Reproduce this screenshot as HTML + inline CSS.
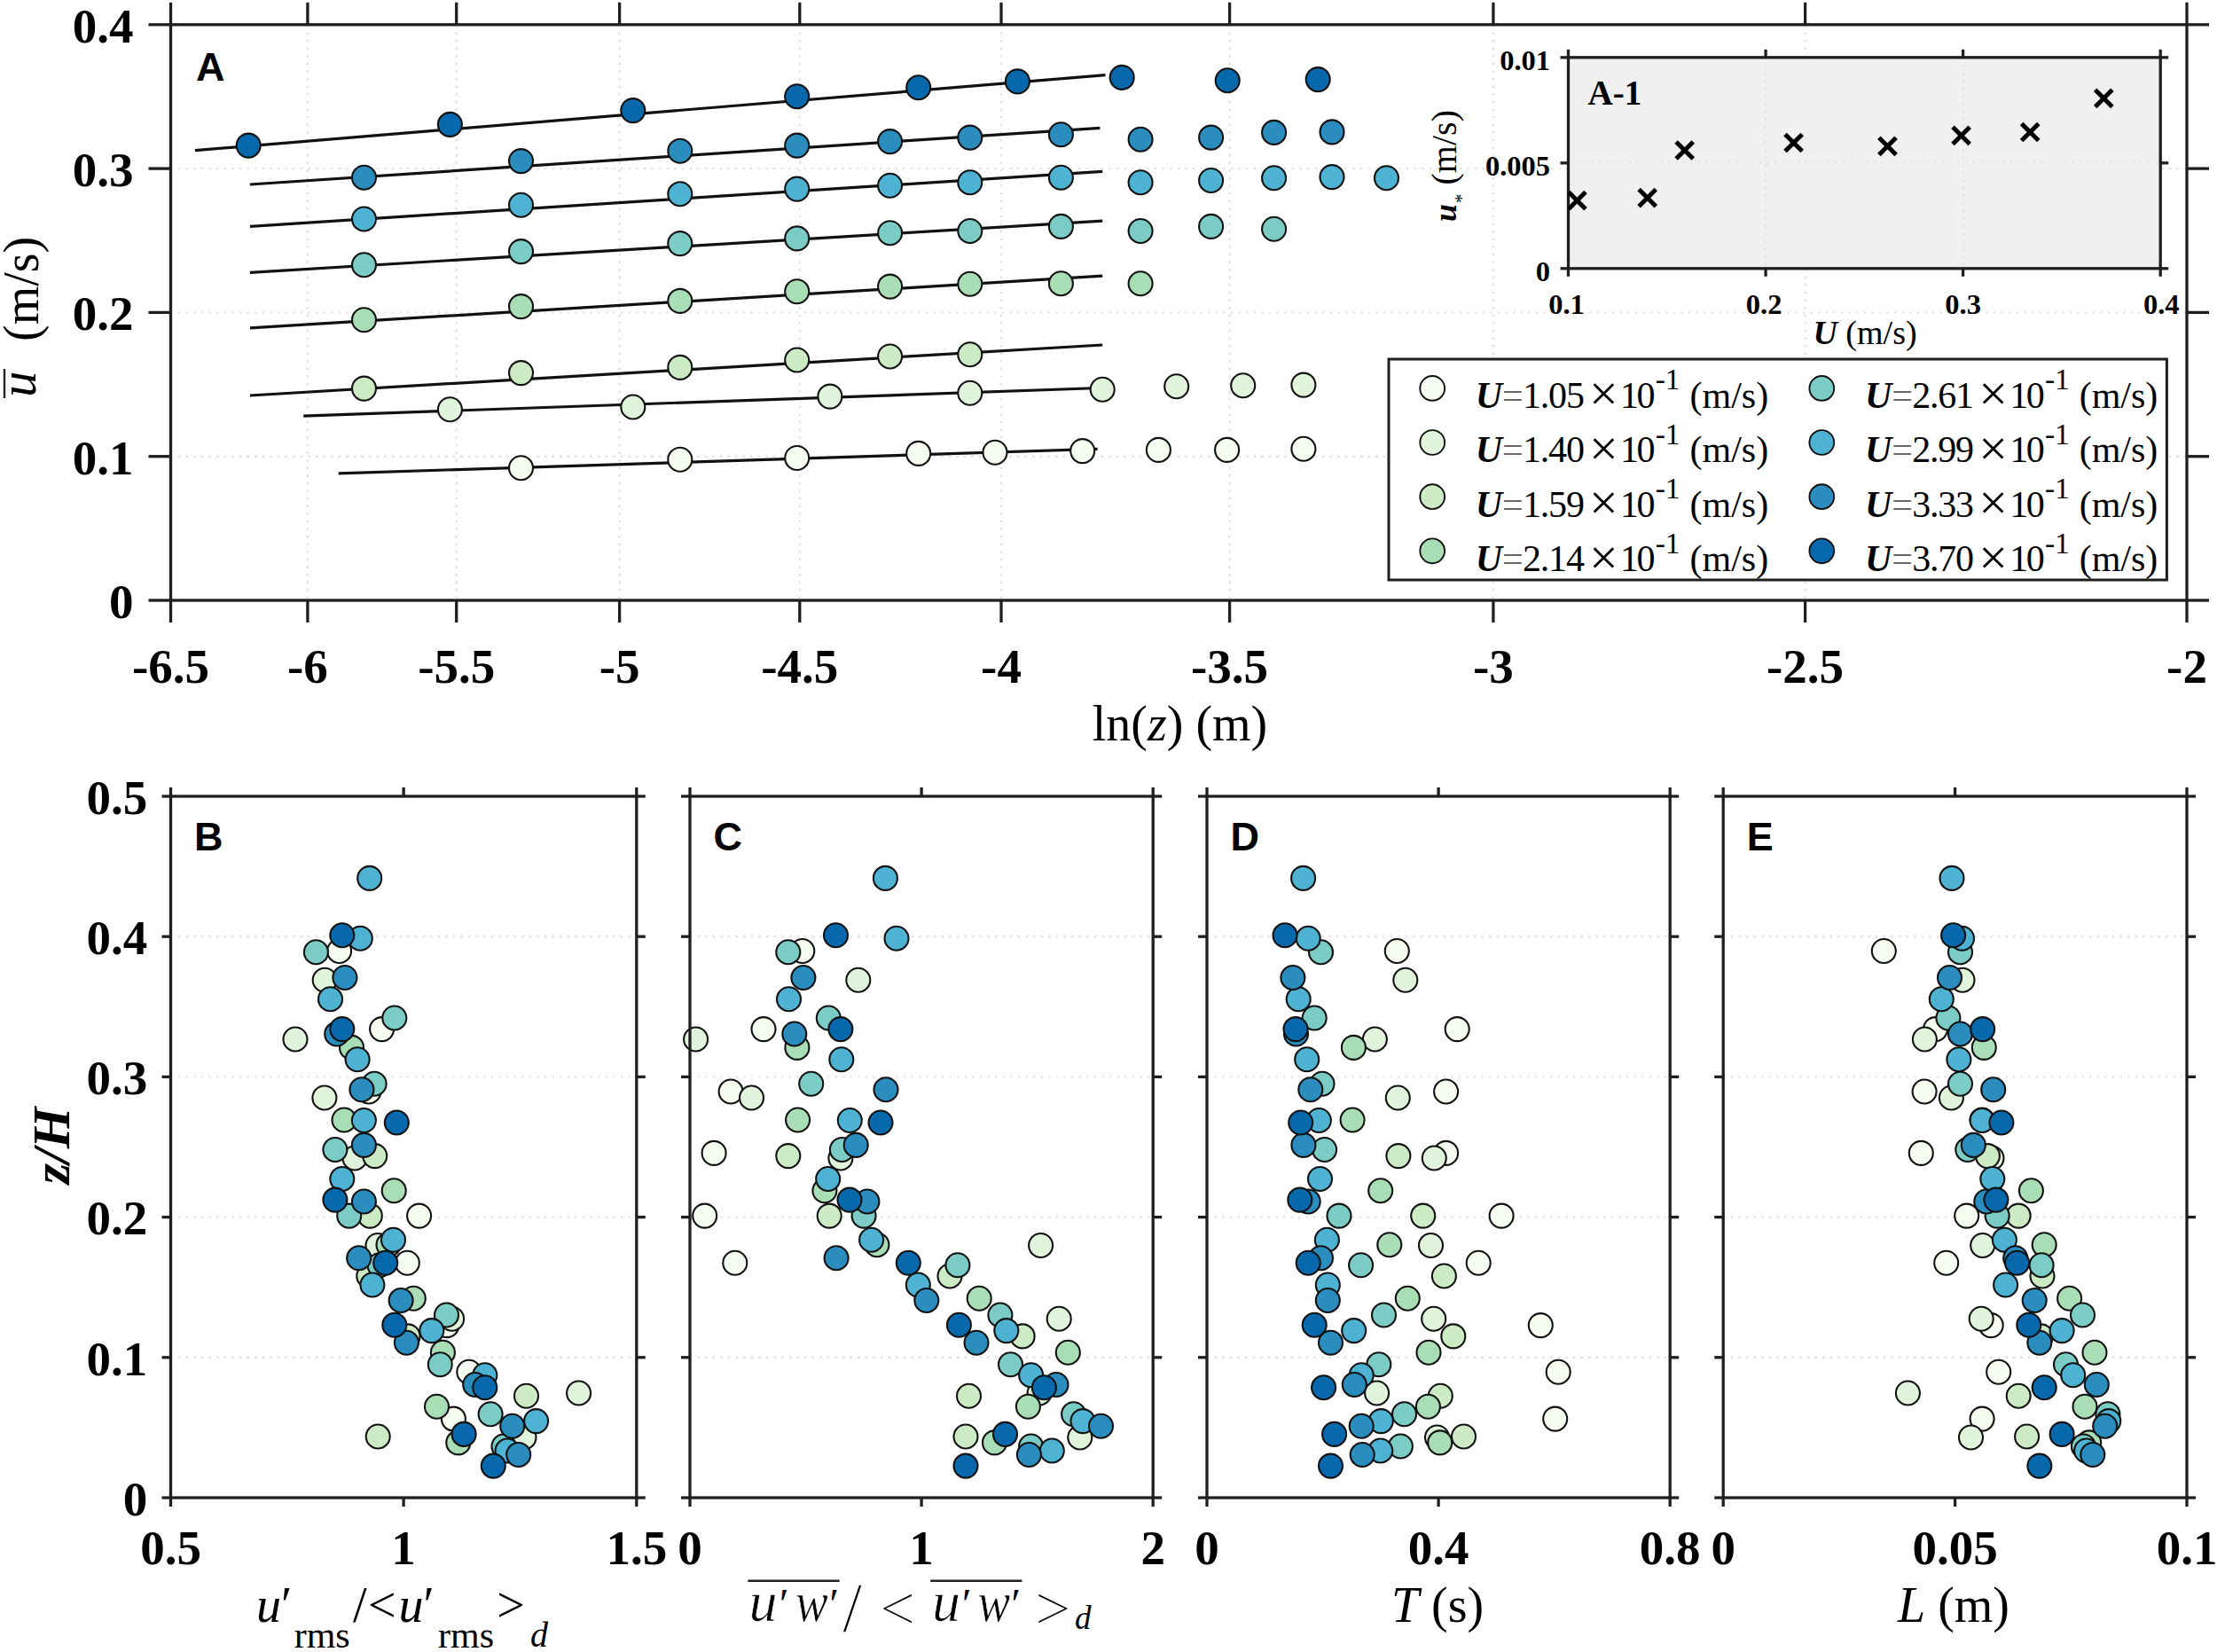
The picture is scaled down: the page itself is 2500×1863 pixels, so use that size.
<!DOCTYPE html>
<html><head><meta charset="utf-8"><title>Figure</title>
<style>html,body{margin:0;padding:0;background:#fff}svg{display:block}</style></head>
<body>
<svg width="2500" height="1863" viewBox="0 0 2500 1863">
<rect width="2500" height="1863" fill="#fff"/>
<line x1="346.9" y1="27.8" x2="346.9" y2="677" stroke="#e2e2e2" stroke-width="2.4" stroke-dasharray="2.4 6.2"/>
<line x1="514.7" y1="27.8" x2="514.7" y2="677" stroke="#e2e2e2" stroke-width="2.4" stroke-dasharray="2.4 6.2"/>
<line x1="698.6" y1="27.8" x2="698.6" y2="677" stroke="#e2e2e2" stroke-width="2.4" stroke-dasharray="2.4 6.2"/>
<line x1="901.8" y1="27.8" x2="901.8" y2="677" stroke="#e2e2e2" stroke-width="2.4" stroke-dasharray="2.4 6.2"/>
<line x1="1129" y1="27.8" x2="1129" y2="677" stroke="#e2e2e2" stroke-width="2.4" stroke-dasharray="2.4 6.2"/>
<line x1="1386.6" y1="27.8" x2="1386.6" y2="677" stroke="#e2e2e2" stroke-width="2.4" stroke-dasharray="2.4 6.2"/>
<line x1="1683.9" y1="27.8" x2="1683.9" y2="677" stroke="#e2e2e2" stroke-width="2.4" stroke-dasharray="2.4 6.2"/>
<line x1="2035.6" y1="27.8" x2="2035.6" y2="677" stroke="#e2e2e2" stroke-width="2.4" stroke-dasharray="2.4 6.2"/>
<line x1="192.5" y1="514.7" x2="2466" y2="514.7" stroke="#e2e2e2" stroke-width="2.4" stroke-dasharray="2.4 6.2"/>
<line x1="192.5" y1="352.4" x2="2466" y2="352.4" stroke="#e2e2e2" stroke-width="2.4" stroke-dasharray="2.4 6.2"/>
<line x1="192.5" y1="190.1" x2="2466" y2="190.1" stroke="#e2e2e2" stroke-width="2.4" stroke-dasharray="2.4 6.2"/>
<line x1="381.7" y1="533.9" x2="1237.6" y2="506.3" stroke="#111" stroke-width="3.2" stroke-linecap="butt"/>
<line x1="342.2" y1="469.1" x2="1240.4" y2="437.5" stroke="#111" stroke-width="3.2" stroke-linecap="butt"/>
<line x1="281.9" y1="446" x2="1243.2" y2="389" stroke="#111" stroke-width="3.2" stroke-linecap="butt"/>
<line x1="281.9" y1="369.9" x2="1243.2" y2="311.2" stroke="#111" stroke-width="3.2" stroke-linecap="butt"/>
<line x1="281.9" y1="307.3" x2="1243.2" y2="249.2" stroke="#111" stroke-width="3.2" stroke-linecap="butt"/>
<line x1="281.9" y1="255.4" x2="1243.2" y2="193.4" stroke="#111" stroke-width="3.2" stroke-linecap="butt"/>
<line x1="281.9" y1="208" x2="1240.4" y2="144.3" stroke="#111" stroke-width="3.2" stroke-linecap="butt"/>
<line x1="219.9" y1="169.7" x2="1246.5" y2="84.6" stroke="#111" stroke-width="3.2" stroke-linecap="butt"/>
<circle cx="587.5" cy="527.7" r="13.5" fill="#f7fcf0" stroke="#111" stroke-width="2.1"/>
<circle cx="766.8" cy="518.2" r="13.5" fill="#f7fcf0" stroke="#111" stroke-width="2.1"/>
<circle cx="898.7" cy="516.5" r="13.5" fill="#f7fcf0" stroke="#111" stroke-width="2.1"/>
<circle cx="1035.7" cy="511.4" r="13.5" fill="#f7fcf0" stroke="#111" stroke-width="2.1"/>
<circle cx="1122" cy="510.3" r="13.5" fill="#f7fcf0" stroke="#111" stroke-width="2.1"/>
<circle cx="1220.7" cy="508.6" r="13.5" fill="#f7fcf0" stroke="#111" stroke-width="2.1"/>
<circle cx="1306.4" cy="507.4" r="13.5" fill="#f7fcf0" stroke="#111" stroke-width="2.1"/>
<circle cx="1383.6" cy="507.4" r="13.5" fill="#f7fcf0" stroke="#111" stroke-width="2.1"/>
<circle cx="1469.9" cy="506.3" r="13.5" fill="#f7fcf0" stroke="#111" stroke-width="2.1"/>
<circle cx="507.4" cy="461.8" r="13.5" fill="#e0f3db" stroke="#111" stroke-width="2.1"/>
<circle cx="713.8" cy="459" r="13.5" fill="#e0f3db" stroke="#111" stroke-width="2.1"/>
<circle cx="935.9" cy="447.1" r="13.5" fill="#e0f3db" stroke="#111" stroke-width="2.1"/>
<circle cx="1093.8" cy="443.2" r="13.5" fill="#e0f3db" stroke="#111" stroke-width="2.1"/>
<circle cx="1243.2" cy="439.2" r="13.5" fill="#e0f3db" stroke="#111" stroke-width="2.1"/>
<circle cx="1326.7" cy="435.8" r="13.5" fill="#e0f3db" stroke="#111" stroke-width="2.1"/>
<circle cx="1401.7" cy="434.7" r="13.5" fill="#e0f3db" stroke="#111" stroke-width="2.1"/>
<circle cx="1469.9" cy="434.1" r="13.5" fill="#e0f3db" stroke="#111" stroke-width="2.1"/>
<circle cx="410.5" cy="438.1" r="13.5" fill="#ccebc5" stroke="#111" stroke-width="2.1"/>
<circle cx="587.5" cy="420.6" r="13.5" fill="#ccebc5" stroke="#111" stroke-width="2.1"/>
<circle cx="766.8" cy="414.4" r="13.5" fill="#ccebc5" stroke="#111" stroke-width="2.1"/>
<circle cx="898.7" cy="406" r="13.5" fill="#ccebc5" stroke="#111" stroke-width="2.1"/>
<circle cx="1003.6" cy="402" r="13.5" fill="#ccebc5" stroke="#111" stroke-width="2.1"/>
<circle cx="1093.8" cy="399.8" r="13.5" fill="#ccebc5" stroke="#111" stroke-width="2.1"/>
<circle cx="410.5" cy="360.8" r="13.5" fill="#a8ddb5" stroke="#111" stroke-width="2.1"/>
<circle cx="587.5" cy="345.6" r="13.5" fill="#a8ddb5" stroke="#111" stroke-width="2.1"/>
<circle cx="766.8" cy="339.4" r="13.5" fill="#a8ddb5" stroke="#111" stroke-width="2.1"/>
<circle cx="898.7" cy="328.7" r="13.5" fill="#a8ddb5" stroke="#111" stroke-width="2.1"/>
<circle cx="1003.6" cy="323.1" r="13.5" fill="#a8ddb5" stroke="#111" stroke-width="2.1"/>
<circle cx="1093.8" cy="320.3" r="13.5" fill="#a8ddb5" stroke="#111" stroke-width="2.1"/>
<circle cx="1196.4" cy="319.7" r="13.5" fill="#a8ddb5" stroke="#111" stroke-width="2.1"/>
<circle cx="1286.1" cy="319.7" r="13.5" fill="#a8ddb5" stroke="#111" stroke-width="2.1"/>
<circle cx="410.5" cy="298.8" r="13.5" fill="#7bccc4" stroke="#111" stroke-width="2.1"/>
<circle cx="587.5" cy="283.6" r="13.5" fill="#7bccc4" stroke="#111" stroke-width="2.1"/>
<circle cx="766.8" cy="274.6" r="13.5" fill="#7bccc4" stroke="#111" stroke-width="2.1"/>
<circle cx="898.7" cy="268.9" r="13.5" fill="#7bccc4" stroke="#111" stroke-width="2.1"/>
<circle cx="1003.6" cy="262.7" r="13.5" fill="#7bccc4" stroke="#111" stroke-width="2.1"/>
<circle cx="1093.8" cy="260.5" r="13.5" fill="#7bccc4" stroke="#111" stroke-width="2.1"/>
<circle cx="1196.4" cy="255.4" r="13.5" fill="#7bccc4" stroke="#111" stroke-width="2.1"/>
<circle cx="1286.1" cy="260.5" r="13.5" fill="#7bccc4" stroke="#111" stroke-width="2.1"/>
<circle cx="1365.6" cy="255.4" r="13.5" fill="#7bccc4" stroke="#111" stroke-width="2.1"/>
<circle cx="1436.6" cy="258.2" r="13.5" fill="#7bccc4" stroke="#111" stroke-width="2.1"/>
<circle cx="410.5" cy="247" r="13.5" fill="#4eb3d3" stroke="#111" stroke-width="2.1"/>
<circle cx="587.5" cy="231.2" r="13.5" fill="#4eb3d3" stroke="#111" stroke-width="2.1"/>
<circle cx="766.8" cy="218.8" r="13.5" fill="#4eb3d3" stroke="#111" stroke-width="2.1"/>
<circle cx="898.7" cy="213.1" r="13.5" fill="#4eb3d3" stroke="#111" stroke-width="2.1"/>
<circle cx="1003.6" cy="209.2" r="13.5" fill="#4eb3d3" stroke="#111" stroke-width="2.1"/>
<circle cx="1093.8" cy="205.8" r="13.5" fill="#4eb3d3" stroke="#111" stroke-width="2.1"/>
<circle cx="1196.4" cy="200.2" r="13.5" fill="#4eb3d3" stroke="#111" stroke-width="2.1"/>
<circle cx="1286.1" cy="205.8" r="13.5" fill="#4eb3d3" stroke="#111" stroke-width="2.1"/>
<circle cx="1365.6" cy="203.5" r="13.5" fill="#4eb3d3" stroke="#111" stroke-width="2.1"/>
<circle cx="1436.6" cy="200.7" r="13.5" fill="#4eb3d3" stroke="#111" stroke-width="2.1"/>
<circle cx="1502" cy="199.6" r="13.5" fill="#4eb3d3" stroke="#111" stroke-width="2.1"/>
<circle cx="1563.5" cy="200.7" r="13.5" fill="#4eb3d3" stroke="#111" stroke-width="2.1"/>
<circle cx="410.5" cy="200.2" r="13.5" fill="#2b8cbe" stroke="#111" stroke-width="2.1"/>
<circle cx="587.5" cy="181.6" r="13.5" fill="#2b8cbe" stroke="#111" stroke-width="2.1"/>
<circle cx="766.8" cy="170.3" r="13.5" fill="#2b8cbe" stroke="#111" stroke-width="2.1"/>
<circle cx="898.7" cy="164.1" r="13.5" fill="#2b8cbe" stroke="#111" stroke-width="2.1"/>
<circle cx="1003.6" cy="159.6" r="13.5" fill="#2b8cbe" stroke="#111" stroke-width="2.1"/>
<circle cx="1093.8" cy="155.1" r="13.5" fill="#2b8cbe" stroke="#111" stroke-width="2.1"/>
<circle cx="1196.4" cy="151.7" r="13.5" fill="#2b8cbe" stroke="#111" stroke-width="2.1"/>
<circle cx="1286.1" cy="157.3" r="13.5" fill="#2b8cbe" stroke="#111" stroke-width="2.1"/>
<circle cx="1365.6" cy="155.1" r="13.5" fill="#2b8cbe" stroke="#111" stroke-width="2.1"/>
<circle cx="1436.6" cy="149.4" r="13.5" fill="#2b8cbe" stroke="#111" stroke-width="2.1"/>
<circle cx="1502" cy="148.9" r="13.5" fill="#2b8cbe" stroke="#111" stroke-width="2.1"/>
<circle cx="280.2" cy="164.1" r="13.5" fill="#0868ac" stroke="#111" stroke-width="2.1"/>
<circle cx="507.4" cy="140.4" r="13.5" fill="#0868ac" stroke="#111" stroke-width="2.1"/>
<circle cx="713.8" cy="124.6" r="13.5" fill="#0868ac" stroke="#111" stroke-width="2.1"/>
<circle cx="898.7" cy="108.8" r="13.5" fill="#0868ac" stroke="#111" stroke-width="2.1"/>
<circle cx="1035.7" cy="98.7" r="13.5" fill="#0868ac" stroke="#111" stroke-width="2.1"/>
<circle cx="1147.4" cy="91.9" r="13.5" fill="#0868ac" stroke="#111" stroke-width="2.1"/>
<circle cx="1265.2" cy="87.4" r="13.5" fill="#0868ac" stroke="#111" stroke-width="2.1"/>
<circle cx="1384.2" cy="90.8" r="13.5" fill="#0868ac" stroke="#111" stroke-width="2.1"/>
<circle cx="1486.2" cy="89.6" r="13.5" fill="#0868ac" stroke="#111" stroke-width="2.1"/>
<rect x="192.5" y="27.8" width="2273.5" height="649.2" fill="none" stroke="#1f1f1f" stroke-width="3.3"/>
<line x1="192.5" y1="27.8" x2="192.5" y2="2.8" stroke="#1f1f1f" stroke-width="3.3" />
<line x1="192.5" y1="677" x2="192.5" y2="702" stroke="#1f1f1f" stroke-width="3.3" />
<text x="192.5" y="769.5" font-family="'Liberation Serif','Times New Roman',Times,serif" font-size="55" font-weight="bold" font-style="normal" text-anchor="middle" >-6.5</text>
<line x1="346.9" y1="27.8" x2="346.9" y2="2.8" stroke="#1f1f1f" stroke-width="3.3" />
<line x1="346.9" y1="677" x2="346.9" y2="702" stroke="#1f1f1f" stroke-width="3.3" />
<text x="346.9" y="769.5" font-family="'Liberation Serif','Times New Roman',Times,serif" font-size="55" font-weight="bold" font-style="normal" text-anchor="middle" >-6</text>
<line x1="514.7" y1="27.8" x2="514.7" y2="2.8" stroke="#1f1f1f" stroke-width="3.3" />
<line x1="514.7" y1="677" x2="514.7" y2="702" stroke="#1f1f1f" stroke-width="3.3" />
<text x="514.7" y="769.5" font-family="'Liberation Serif','Times New Roman',Times,serif" font-size="55" font-weight="bold" font-style="normal" text-anchor="middle" >-5.5</text>
<line x1="698.6" y1="27.8" x2="698.6" y2="2.8" stroke="#1f1f1f" stroke-width="3.3" />
<line x1="698.6" y1="677" x2="698.6" y2="702" stroke="#1f1f1f" stroke-width="3.3" />
<text x="698.6" y="769.5" font-family="'Liberation Serif','Times New Roman',Times,serif" font-size="55" font-weight="bold" font-style="normal" text-anchor="middle" >-5</text>
<line x1="901.8" y1="27.8" x2="901.8" y2="2.8" stroke="#1f1f1f" stroke-width="3.3" />
<line x1="901.8" y1="677" x2="901.8" y2="702" stroke="#1f1f1f" stroke-width="3.3" />
<text x="901.8" y="769.5" font-family="'Liberation Serif','Times New Roman',Times,serif" font-size="55" font-weight="bold" font-style="normal" text-anchor="middle" >-4.5</text>
<line x1="1129" y1="27.8" x2="1129" y2="2.8" stroke="#1f1f1f" stroke-width="3.3" />
<line x1="1129" y1="677" x2="1129" y2="702" stroke="#1f1f1f" stroke-width="3.3" />
<text x="1129" y="769.5" font-family="'Liberation Serif','Times New Roman',Times,serif" font-size="55" font-weight="bold" font-style="normal" text-anchor="middle" >-4</text>
<line x1="1386.6" y1="27.8" x2="1386.6" y2="2.8" stroke="#1f1f1f" stroke-width="3.3" />
<line x1="1386.6" y1="677" x2="1386.6" y2="702" stroke="#1f1f1f" stroke-width="3.3" />
<text x="1386.6" y="769.5" font-family="'Liberation Serif','Times New Roman',Times,serif" font-size="55" font-weight="bold" font-style="normal" text-anchor="middle" >-3.5</text>
<line x1="1683.9" y1="27.8" x2="1683.9" y2="2.8" stroke="#1f1f1f" stroke-width="3.3" />
<line x1="1683.9" y1="677" x2="1683.9" y2="702" stroke="#1f1f1f" stroke-width="3.3" />
<text x="1683.9" y="769.5" font-family="'Liberation Serif','Times New Roman',Times,serif" font-size="55" font-weight="bold" font-style="normal" text-anchor="middle" >-3</text>
<line x1="2035.6" y1="27.8" x2="2035.6" y2="2.8" stroke="#1f1f1f" stroke-width="3.3" />
<line x1="2035.6" y1="677" x2="2035.6" y2="702" stroke="#1f1f1f" stroke-width="3.3" />
<text x="2035.6" y="769.5" font-family="'Liberation Serif','Times New Roman',Times,serif" font-size="55" font-weight="bold" font-style="normal" text-anchor="middle" >-2.5</text>
<line x1="2466" y1="27.8" x2="2466" y2="2.8" stroke="#1f1f1f" stroke-width="3.3" />
<line x1="2466" y1="677" x2="2466" y2="702" stroke="#1f1f1f" stroke-width="3.3" />
<text x="2466" y="769.5" font-family="'Liberation Serif','Times New Roman',Times,serif" font-size="55" font-weight="bold" font-style="normal" text-anchor="middle" >-2</text>
<line x1="192.5" y1="677" x2="167.5" y2="677" stroke="#1f1f1f" stroke-width="3.3" />
<line x1="2466" y1="677" x2="2491" y2="677" stroke="#1f1f1f" stroke-width="3.3" />
<text x="150.5" y="696.8" font-family="'Liberation Serif','Times New Roman',Times,serif" font-size="55" font-weight="bold" font-style="normal" text-anchor="end" >0</text>
<line x1="192.5" y1="514.7" x2="167.5" y2="514.7" stroke="#1f1f1f" stroke-width="3.3" />
<line x1="2466" y1="514.7" x2="2491" y2="514.7" stroke="#1f1f1f" stroke-width="3.3" />
<text x="150.5" y="534.5" font-family="'Liberation Serif','Times New Roman',Times,serif" font-size="55" font-weight="bold" font-style="normal" text-anchor="end" >0.1</text>
<line x1="192.5" y1="352.4" x2="167.5" y2="352.4" stroke="#1f1f1f" stroke-width="3.3" />
<line x1="2466" y1="352.4" x2="2491" y2="352.4" stroke="#1f1f1f" stroke-width="3.3" />
<text x="150.5" y="372.2" font-family="'Liberation Serif','Times New Roman',Times,serif" font-size="55" font-weight="bold" font-style="normal" text-anchor="end" >0.2</text>
<line x1="192.5" y1="190.1" x2="167.5" y2="190.1" stroke="#1f1f1f" stroke-width="3.3" />
<line x1="2466" y1="190.1" x2="2491" y2="190.1" stroke="#1f1f1f" stroke-width="3.3" />
<text x="150.5" y="209.9" font-family="'Liberation Serif','Times New Roman',Times,serif" font-size="55" font-weight="bold" font-style="normal" text-anchor="end" >0.3</text>
<line x1="192.5" y1="27.8" x2="167.5" y2="27.8" stroke="#1f1f1f" stroke-width="3.3" />
<line x1="2466" y1="27.8" x2="2491" y2="27.8" stroke="#1f1f1f" stroke-width="3.3" />
<text x="150.5" y="47.6" font-family="'Liberation Serif','Times New Roman',Times,serif" font-size="55" font-weight="bold" font-style="normal" text-anchor="end" >0.4</text>
<text x="221" y="90.5" font-family="'Liberation Sans',Arial,Helvetica,sans-serif" font-size="45" font-weight="bold" font-style="normal" text-anchor="start" >A</text>
<text x="1330.5" y="835" font-family="'Liberation Serif','Times New Roman',Times,serif" font-size="56" text-anchor="middle">ln(<tspan font-style="italic">z</tspan>) (m)</text>
<g transform="translate(43,447) rotate(-90)"><text x="-1" y="-3" font-family="'Liberation Serif','Times New Roman',Times,serif" font-size="59" text-anchor="start"><tspan font-style="italic">u</tspan></text><line x1="-2" y1="-38" x2="31" y2="-38" stroke="#222" stroke-width="2.4"/><text x="62" y="0" font-family="'Liberation Serif','Times New Roman',Times,serif" font-size="56" text-anchor="start">(m/s)</text></g>
<rect x="1768.5" y="64.8" width="667.7" height="238" fill="#f0f0f0"/>
<line x1="1991.1" y1="64.8" x2="1991.1" y2="302.8" stroke="#e2e2e2" stroke-width="2.4" stroke-dasharray="2.4 6.2"/>
<line x1="2213.6" y1="64.8" x2="2213.6" y2="302.8" stroke="#e2e2e2" stroke-width="2.4" stroke-dasharray="2.4 6.2"/>
<line x1="1768.5" y1="183.8" x2="2436.2" y2="183.8" stroke="#e2e2e2" stroke-width="2.4" stroke-dasharray="2.4 6.2"/>
<rect x="1768.5" y="64.8" width="667.7" height="238" fill="none" stroke="#1f1f1f" stroke-width="3.3"/>
<line x1="1768.5" y1="64.8" x2="1768.5" y2="55.8" stroke="#1f1f1f" stroke-width="3.3" />
<line x1="1768.5" y1="302.8" x2="1768.5" y2="311.8" stroke="#1f1f1f" stroke-width="3.3" />
<text x="1766.5" y="353.6" font-family="'Liberation Serif','Times New Roman',Times,serif" font-size="32.5" font-weight="bold" font-style="normal" text-anchor="middle" >0.1</text>
<line x1="1991.1" y1="64.8" x2="1991.1" y2="55.8" stroke="#1f1f1f" stroke-width="3.3" />
<line x1="1991.1" y1="302.8" x2="1991.1" y2="311.8" stroke="#1f1f1f" stroke-width="3.3" />
<text x="1989.1" y="353.6" font-family="'Liberation Serif','Times New Roman',Times,serif" font-size="32.5" font-weight="bold" font-style="normal" text-anchor="middle" >0.2</text>
<line x1="2213.6" y1="64.8" x2="2213.6" y2="55.8" stroke="#1f1f1f" stroke-width="3.3" />
<line x1="2213.6" y1="302.8" x2="2213.6" y2="311.8" stroke="#1f1f1f" stroke-width="3.3" />
<text x="2213.6" y="353.6" font-family="'Liberation Serif','Times New Roman',Times,serif" font-size="32.5" font-weight="bold" font-style="normal" text-anchor="middle" >0.3</text>
<line x1="2436.2" y1="64.8" x2="2436.2" y2="55.8" stroke="#1f1f1f" stroke-width="3.3" />
<line x1="2436.2" y1="302.8" x2="2436.2" y2="311.8" stroke="#1f1f1f" stroke-width="3.3" />
<text x="2437.2" y="353.6" font-family="'Liberation Serif','Times New Roman',Times,serif" font-size="32.5" font-weight="bold" font-style="normal" text-anchor="middle" >0.4</text>
<line x1="1768.5" y1="302.8" x2="1759.5" y2="302.8" stroke="#1f1f1f" stroke-width="3.3" />
<line x1="2436.2" y1="302.8" x2="2445.2" y2="302.8" stroke="#1f1f1f" stroke-width="3.3" />
<text x="1748" y="316.5" font-family="'Liberation Serif','Times New Roman',Times,serif" font-size="32.5" font-weight="bold" font-style="normal" text-anchor="end" >0</text>
<line x1="1768.5" y1="183.8" x2="1759.5" y2="183.8" stroke="#1f1f1f" stroke-width="3.3" />
<line x1="2436.2" y1="183.8" x2="2445.2" y2="183.8" stroke="#1f1f1f" stroke-width="3.3" />
<text x="1748" y="197.5" font-family="'Liberation Serif','Times New Roman',Times,serif" font-size="32.5" font-weight="bold" font-style="normal" text-anchor="end" >0.005</text>
<line x1="1768.5" y1="64.8" x2="1759.5" y2="64.8" stroke="#1f1f1f" stroke-width="3.3" />
<line x1="2436.2" y1="64.8" x2="2445.2" y2="64.8" stroke="#1f1f1f" stroke-width="3.3" />
<text x="1748" y="78.5" font-family="'Liberation Serif','Times New Roman',Times,serif" font-size="32.5" font-weight="bold" font-style="normal" text-anchor="end" >0.01</text>
<path d="M1768.8 216.5L1788 235.7M1768.8 235.7L1788 216.5" stroke="#000" stroke-width="5" fill="none"/>
<path d="M1848.1 213.5L1867.3 232.7M1848.1 232.7L1867.3 213.5" stroke="#000" stroke-width="5" fill="none"/>
<path d="M1890.1 159.9L1909.3 179.1M1890.1 179.1L1909.3 159.9" stroke="#000" stroke-width="5" fill="none"/>
<path d="M2013 151.4L2032.2 170.6M2013 170.6L2032.2 151.4" stroke="#000" stroke-width="5" fill="none"/>
<path d="M2118.9 155.2L2138.1 174.4M2118.9 174.4L2138.1 155.2" stroke="#000" stroke-width="5" fill="none"/>
<path d="M2202 143.2L2221.2 162.4M2202 162.4L2221.2 143.2" stroke="#000" stroke-width="5" fill="none"/>
<path d="M2279.6 139.4L2298.8 158.6M2279.6 158.6L2298.8 139.4" stroke="#000" stroke-width="5" fill="none"/>
<path d="M2362.7 101.2L2381.9 120.4M2362.7 120.4L2381.9 101.2" stroke="#000" stroke-width="5" fill="none"/>
<text x="1790.5" y="118" font-family="'Liberation Serif','Times New Roman',Times,serif" font-size="39" font-weight="bold" font-style="normal" text-anchor="start" >A-1</text>
<text x="2103" y="387.5" font-family="'Liberation Serif','Times New Roman',Times,serif" font-size="38" text-anchor="middle"><tspan font-weight="bold" font-style="italic">U</tspan> (m/s)</text>
<g transform="translate(1642,187) rotate(-90)"><text x="0" y="0" font-family="'Liberation Serif','Times New Roman',Times,serif" font-size="40" text-anchor="middle"><tspan font-weight="bold" font-style="italic" font-size="36">u</tspan><tspan font-size="21" dy="13" dx="1">*</tspan><tspan dy="-13"> (m/s)</tspan></text></g>
<rect x="1566" y="405" width="877.4" height="249" fill="#fff" stroke="#1f1f1f" stroke-width="3"/>
<circle cx="1615.2" cy="437.9" r="13.9" fill="#f7fcf0" stroke="#111" stroke-width="1.9"/>
<text y="459.8" font-family="'Liberation Serif','Times New Roman',Times,serif" font-size="42" text-anchor="start"><tspan x="1663.8" font-weight="bold" font-style="italic">U</tspan><tspan x="1694" fill="#666">=</tspan><tspan x="1717" letter-spacing="-1.2">1.05</tspan><tspan x="1792" font-size="58.0" dy="3.5">×</tspan><tspan x="1827" dy="-3.5" letter-spacing="-2.5">10</tspan><tspan x="1866.7" font-size="33.6" dy="-20.5">-1</tspan><tspan x="1905.5" dy="20.5">(m/s)</tspan></text>
<circle cx="1615.2" cy="499" r="13.9" fill="#e0f3db" stroke="#111" stroke-width="1.9"/>
<text y="521.3" font-family="'Liberation Serif','Times New Roman',Times,serif" font-size="42" text-anchor="start"><tspan x="1663.8" font-weight="bold" font-style="italic">U</tspan><tspan x="1694" fill="#666">=</tspan><tspan x="1717" letter-spacing="-1.2">1.40</tspan><tspan x="1792" font-size="58.0" dy="3.5">×</tspan><tspan x="1827" dy="-3.5" letter-spacing="-2.5">10</tspan><tspan x="1866.7" font-size="33.6" dy="-20.5">-1</tspan><tspan x="1905.5" dy="20.5">(m/s)</tspan></text>
<circle cx="1615.2" cy="560.2" r="13.9" fill="#ccebc5" stroke="#111" stroke-width="1.9"/>
<text y="582.8" font-family="'Liberation Serif','Times New Roman',Times,serif" font-size="42" text-anchor="start"><tspan x="1663.8" font-weight="bold" font-style="italic">U</tspan><tspan x="1694" fill="#666">=</tspan><tspan x="1717" letter-spacing="-1.2">1.59</tspan><tspan x="1792" font-size="58.0" dy="3.5">×</tspan><tspan x="1827" dy="-3.5" letter-spacing="-2.5">10</tspan><tspan x="1866.7" font-size="33.6" dy="-20.5">-1</tspan><tspan x="1905.5" dy="20.5">(m/s)</tspan></text>
<circle cx="1615.2" cy="621.3" r="13.9" fill="#a8ddb5" stroke="#111" stroke-width="1.9"/>
<text y="644.3" font-family="'Liberation Serif','Times New Roman',Times,serif" font-size="42" text-anchor="start"><tspan x="1663.8" font-weight="bold" font-style="italic">U</tspan><tspan x="1694" fill="#666">=</tspan><tspan x="1717" letter-spacing="-1.2">2.14</tspan><tspan x="1792" font-size="58.0" dy="3.5">×</tspan><tspan x="1827" dy="-3.5" letter-spacing="-2.5">10</tspan><tspan x="1866.7" font-size="33.6" dy="-20.5">-1</tspan><tspan x="1905.5" dy="20.5">(m/s)</tspan></text>
<circle cx="2054.3" cy="437.9" r="13.9" fill="#7bccc4" stroke="#111" stroke-width="1.9"/>
<text y="459.8" font-family="'Liberation Serif','Times New Roman',Times,serif" font-size="42" text-anchor="start"><tspan x="2103" font-weight="bold" font-style="italic">U</tspan><tspan x="2133.2" fill="#666">=</tspan><tspan x="2156.2" letter-spacing="-1.2">2.61</tspan><tspan x="2231.2" font-size="58.0" dy="3.5">×</tspan><tspan x="2266.2" dy="-3.5" letter-spacing="-2.5">10</tspan><tspan x="2305.9" font-size="33.6" dy="-20.5">-1</tspan><tspan x="2344.7" dy="20.5">(m/s)</tspan></text>
<circle cx="2054.3" cy="499" r="13.9" fill="#4eb3d3" stroke="#111" stroke-width="1.9"/>
<text y="521.3" font-family="'Liberation Serif','Times New Roman',Times,serif" font-size="42" text-anchor="start"><tspan x="2103" font-weight="bold" font-style="italic">U</tspan><tspan x="2133.2" fill="#666">=</tspan><tspan x="2156.2" letter-spacing="-1.2">2.99</tspan><tspan x="2231.2" font-size="58.0" dy="3.5">×</tspan><tspan x="2266.2" dy="-3.5" letter-spacing="-2.5">10</tspan><tspan x="2305.9" font-size="33.6" dy="-20.5">-1</tspan><tspan x="2344.7" dy="20.5">(m/s)</tspan></text>
<circle cx="2054.3" cy="560.2" r="13.9" fill="#2b8cbe" stroke="#111" stroke-width="1.9"/>
<text y="582.8" font-family="'Liberation Serif','Times New Roman',Times,serif" font-size="42" text-anchor="start"><tspan x="2103" font-weight="bold" font-style="italic">U</tspan><tspan x="2133.2" fill="#666">=</tspan><tspan x="2156.2" letter-spacing="-1.2">3.33</tspan><tspan x="2231.2" font-size="58.0" dy="3.5">×</tspan><tspan x="2266.2" dy="-3.5" letter-spacing="-2.5">10</tspan><tspan x="2305.9" font-size="33.6" dy="-20.5">-1</tspan><tspan x="2344.7" dy="20.5">(m/s)</tspan></text>
<circle cx="2054.3" cy="621.3" r="13.9" fill="#0868ac" stroke="#111" stroke-width="1.9"/>
<text y="644.3" font-family="'Liberation Serif','Times New Roman',Times,serif" font-size="42" text-anchor="start"><tspan x="2103" font-weight="bold" font-style="italic">U</tspan><tspan x="2133.2" fill="#666">=</tspan><tspan x="2156.2" letter-spacing="-1.2">3.70</tspan><tspan x="2231.2" font-size="58.0" dy="3.5">×</tspan><tspan x="2266.2" dy="-3.5" letter-spacing="-2.5">10</tspan><tspan x="2305.9" font-size="33.6" dy="-20.5">-1</tspan><tspan x="2344.7" dy="20.5">(m/s)</tspan></text>
<line x1="192.5" y1="1530.8" x2="717.8" y2="1530.8" stroke="#e2e2e2" stroke-width="2.4" stroke-dasharray="2.4 6.2"/>
<line x1="192.5" y1="1372.6" x2="717.8" y2="1372.6" stroke="#e2e2e2" stroke-width="2.4" stroke-dasharray="2.4 6.2"/>
<line x1="192.5" y1="1214.4" x2="717.8" y2="1214.4" stroke="#e2e2e2" stroke-width="2.4" stroke-dasharray="2.4 6.2"/>
<line x1="192.5" y1="1056.2" x2="717.8" y2="1056.2" stroke="#e2e2e2" stroke-width="2.4" stroke-dasharray="2.4 6.2"/>
<g>
<circle cx="382.6" cy="1072.5" r="13.5" fill="#f7fcf0" stroke="#111" stroke-width="2.1"/>
<circle cx="430.6" cy="1160.6" r="13.5" fill="#f7fcf0" stroke="#111" stroke-width="2.1"/>
<circle cx="415.8" cy="1231" r="13.5" fill="#f7fcf0" stroke="#111" stroke-width="2.1"/>
<circle cx="472.6" cy="1371.1" r="13.5" fill="#f7fcf0" stroke="#111" stroke-width="2.1"/>
<circle cx="459.3" cy="1424.2" r="13.5" fill="#f7fcf0" stroke="#111" stroke-width="2.1"/>
<circle cx="504" cy="1494.6" r="13.5" fill="#f7fcf0" stroke="#111" stroke-width="2.1"/>
<circle cx="528.8" cy="1547.3" r="13.5" fill="#f7fcf0" stroke="#111" stroke-width="2.1"/>
<circle cx="511.4" cy="1600.1" r="13.5" fill="#f7fcf0" stroke="#111" stroke-width="2.1"/>
<circle cx="366.2" cy="1105.3" r="13.5" fill="#e0f3db" stroke="#111" stroke-width="2.1"/>
<circle cx="333" cy="1172" r="13.5" fill="#e0f3db" stroke="#111" stroke-width="2.1"/>
<circle cx="365.9" cy="1238" r="13.5" fill="#e0f3db" stroke="#111" stroke-width="2.1"/>
<circle cx="400" cy="1306" r="13.5" fill="#e0f3db" stroke="#111" stroke-width="2.1"/>
<circle cx="426" cy="1404.5" r="13.5" fill="#e0f3db" stroke="#111" stroke-width="2.1"/>
<circle cx="509.6" cy="1487.3" r="13.5" fill="#e0f3db" stroke="#111" stroke-width="2.1"/>
<circle cx="652.6" cy="1571" r="13.5" fill="#e0f3db" stroke="#111" stroke-width="2.1"/>
<circle cx="591" cy="1621" r="13.5" fill="#e0f3db" stroke="#111" stroke-width="2.1"/>
<circle cx="422.7" cy="1303.6" r="13.5" fill="#ccebc5" stroke="#111" stroke-width="2.1"/>
<circle cx="417.3" cy="1371.1" r="13.5" fill="#ccebc5" stroke="#111" stroke-width="2.1"/>
<circle cx="415.8" cy="1439" r="13.5" fill="#ccebc5" stroke="#111" stroke-width="2.1"/>
<circle cx="460" cy="1506.9" r="13.5" fill="#ccebc5" stroke="#111" stroke-width="2.1"/>
<circle cx="593.5" cy="1574.2" r="13.5" fill="#ccebc5" stroke="#111" stroke-width="2.1"/>
<circle cx="426.2" cy="1620" r="13.5" fill="#ccebc5" stroke="#111" stroke-width="2.1"/>
<circle cx="396.5" cy="1181.4" r="13.5" fill="#a8ddb5" stroke="#111" stroke-width="2.1"/>
<circle cx="388" cy="1263" r="13.5" fill="#a8ddb5" stroke="#111" stroke-width="2.1"/>
<circle cx="444.2" cy="1342.7" r="13.5" fill="#a8ddb5" stroke="#111" stroke-width="2.1"/>
<circle cx="438" cy="1403.7" r="13.5" fill="#a8ddb5" stroke="#111" stroke-width="2.1"/>
<circle cx="466.3" cy="1464.3" r="13.5" fill="#a8ddb5" stroke="#111" stroke-width="2.1"/>
<circle cx="499.4" cy="1525.2" r="13.5" fill="#a8ddb5" stroke="#111" stroke-width="2.1"/>
<circle cx="492.5" cy="1586.2" r="13.5" fill="#a8ddb5" stroke="#111" stroke-width="2.1"/>
<circle cx="516.8" cy="1626.9" r="13.5" fill="#a8ddb5" stroke="#111" stroke-width="2.1"/>
<circle cx="356.4" cy="1073.8" r="13.5" fill="#7bccc4" stroke="#111" stroke-width="2.1"/>
<circle cx="444.8" cy="1148" r="13.5" fill="#7bccc4" stroke="#111" stroke-width="2.1"/>
<circle cx="422.1" cy="1222.2" r="13.5" fill="#7bccc4" stroke="#111" stroke-width="2.1"/>
<circle cx="377.9" cy="1296.5" r="13.5" fill="#7bccc4" stroke="#111" stroke-width="2.1"/>
<circle cx="393.7" cy="1371.1" r="13.5" fill="#7bccc4" stroke="#111" stroke-width="2.1"/>
<circle cx="428" cy="1426.7" r="13.5" fill="#7bccc4" stroke="#111" stroke-width="2.1"/>
<circle cx="503.5" cy="1483" r="13.5" fill="#7bccc4" stroke="#111" stroke-width="2.1"/>
<circle cx="496.3" cy="1538.8" r="13.5" fill="#7bccc4" stroke="#111" stroke-width="2.1"/>
<circle cx="553.1" cy="1594.7" r="13.5" fill="#7bccc4" stroke="#111" stroke-width="2.1"/>
<circle cx="568" cy="1631" r="13.5" fill="#7bccc4" stroke="#111" stroke-width="2.1"/>
<circle cx="416.7" cy="990.4" r="13.5" fill="#4eb3d3" stroke="#111" stroke-width="2.1"/>
<circle cx="406.3" cy="1058.3" r="13.5" fill="#4eb3d3" stroke="#111" stroke-width="2.1"/>
<circle cx="372.5" cy="1126.8" r="13.5" fill="#4eb3d3" stroke="#111" stroke-width="2.1"/>
<circle cx="403.1" cy="1194.7" r="13.5" fill="#4eb3d3" stroke="#111" stroke-width="2.1"/>
<circle cx="410.4" cy="1263.5" r="13.5" fill="#4eb3d3" stroke="#111" stroke-width="2.1"/>
<circle cx="385.8" cy="1329.5" r="13.5" fill="#4eb3d3" stroke="#111" stroke-width="2.1"/>
<circle cx="443.5" cy="1398.3" r="13.5" fill="#4eb3d3" stroke="#111" stroke-width="2.1"/>
<circle cx="419.9" cy="1449" r="13.5" fill="#4eb3d3" stroke="#111" stroke-width="2.1"/>
<circle cx="486.8" cy="1500.6" r="13.5" fill="#4eb3d3" stroke="#111" stroke-width="2.1"/>
<circle cx="546.8" cy="1550.8" r="13.5" fill="#4eb3d3" stroke="#111" stroke-width="2.1"/>
<circle cx="604.6" cy="1602.6" r="13.5" fill="#4eb3d3" stroke="#111" stroke-width="2.1"/>
<circle cx="572.1" cy="1636" r="13.5" fill="#4eb3d3" stroke="#111" stroke-width="2.1"/>
<circle cx="388.9" cy="1102.5" r="13.5" fill="#2b8cbe" stroke="#111" stroke-width="2.1"/>
<circle cx="379.7" cy="1166" r="13.5" fill="#2b8cbe" stroke="#111" stroke-width="2.1"/>
<circle cx="407.9" cy="1228.8" r="13.5" fill="#2b8cbe" stroke="#111" stroke-width="2.1"/>
<circle cx="410.4" cy="1291.4" r="13.5" fill="#2b8cbe" stroke="#111" stroke-width="2.1"/>
<circle cx="410.4" cy="1355" r="13.5" fill="#2b8cbe" stroke="#111" stroke-width="2.1"/>
<circle cx="404.7" cy="1418.7" r="13.5" fill="#2b8cbe" stroke="#111" stroke-width="2.1"/>
<circle cx="452.1" cy="1466.5" r="13.5" fill="#2b8cbe" stroke="#111" stroke-width="2.1"/>
<circle cx="458.4" cy="1514.2" r="13.5" fill="#2b8cbe" stroke="#111" stroke-width="2.1"/>
<circle cx="535.7" cy="1561.5" r="13.5" fill="#2b8cbe" stroke="#111" stroke-width="2.1"/>
<circle cx="577.7" cy="1608.3" r="13.5" fill="#2b8cbe" stroke="#111" stroke-width="2.1"/>
<circle cx="584.7" cy="1640.5" r="13.5" fill="#2b8cbe" stroke="#111" stroke-width="2.1"/>
<circle cx="385.8" cy="1054.8" r="13.5" fill="#0868ac" stroke="#111" stroke-width="2.1"/>
<circle cx="385.8" cy="1160.6" r="13.5" fill="#0868ac" stroke="#111" stroke-width="2.1"/>
<circle cx="447.3" cy="1266" r="13.5" fill="#0868ac" stroke="#111" stroke-width="2.1"/>
<circle cx="377.9" cy="1353.1" r="13.5" fill="#0868ac" stroke="#111" stroke-width="2.1"/>
<circle cx="434.7" cy="1424.2" r="13.5" fill="#0868ac" stroke="#111" stroke-width="2.1"/>
<circle cx="444.8" cy="1494.3" r="13.5" fill="#0868ac" stroke="#111" stroke-width="2.1"/>
<circle cx="546.8" cy="1564.7" r="13.5" fill="#0868ac" stroke="#111" stroke-width="2.1"/>
<circle cx="523.1" cy="1617.4" r="13.5" fill="#0868ac" stroke="#111" stroke-width="2.1"/>
<circle cx="556.3" cy="1653.1" r="13.5" fill="#0868ac" stroke="#111" stroke-width="2.1"/>
</g>
<rect x="192.5" y="898" width="525.3" height="791" fill="none" stroke="#1f1f1f" stroke-width="3.3"/>
<line x1="192.5" y1="898" x2="192.5" y2="888" stroke="#1f1f1f" stroke-width="3.3" />
<line x1="192.5" y1="1689" x2="192.5" y2="1699" stroke="#1f1f1f" stroke-width="3.3" />
<text x="192.5" y="1764" font-family="'Liberation Serif','Times New Roman',Times,serif" font-size="55" font-weight="bold" font-style="normal" text-anchor="middle" >0.5</text>
<line x1="455.1" y1="898" x2="455.1" y2="888" stroke="#1f1f1f" stroke-width="3.3" />
<line x1="455.1" y1="1689" x2="455.1" y2="1699" stroke="#1f1f1f" stroke-width="3.3" />
<text x="455.1" y="1764" font-family="'Liberation Serif','Times New Roman',Times,serif" font-size="55" font-weight="bold" font-style="normal" text-anchor="middle" >1</text>
<line x1="717.8" y1="898" x2="717.8" y2="888" stroke="#1f1f1f" stroke-width="3.3" />
<line x1="717.8" y1="1689" x2="717.8" y2="1699" stroke="#1f1f1f" stroke-width="3.3" />
<text x="717.8" y="1764" font-family="'Liberation Serif','Times New Roman',Times,serif" font-size="55" font-weight="bold" font-style="normal" text-anchor="middle" >1.5</text>
<line x1="192.5" y1="1689" x2="182.5" y2="1689" stroke="#1f1f1f" stroke-width="3.3" />
<line x1="717.8" y1="1689" x2="727.8" y2="1689" stroke="#1f1f1f" stroke-width="3.3" />
<text x="166.2" y="1708.8" font-family="'Liberation Serif','Times New Roman',Times,serif" font-size="55" font-weight="bold" font-style="normal" text-anchor="end" >0</text>
<line x1="192.5" y1="1530.8" x2="182.5" y2="1530.8" stroke="#1f1f1f" stroke-width="3.3" />
<line x1="717.8" y1="1530.8" x2="727.8" y2="1530.8" stroke="#1f1f1f" stroke-width="3.3" />
<text x="166.2" y="1550.6" font-family="'Liberation Serif','Times New Roman',Times,serif" font-size="55" font-weight="bold" font-style="normal" text-anchor="end" >0.1</text>
<line x1="192.5" y1="1372.6" x2="182.5" y2="1372.6" stroke="#1f1f1f" stroke-width="3.3" />
<line x1="717.8" y1="1372.6" x2="727.8" y2="1372.6" stroke="#1f1f1f" stroke-width="3.3" />
<text x="166.2" y="1392.4" font-family="'Liberation Serif','Times New Roman',Times,serif" font-size="55" font-weight="bold" font-style="normal" text-anchor="end" >0.2</text>
<line x1="192.5" y1="1214.4" x2="182.5" y2="1214.4" stroke="#1f1f1f" stroke-width="3.3" />
<line x1="717.8" y1="1214.4" x2="727.8" y2="1214.4" stroke="#1f1f1f" stroke-width="3.3" />
<text x="166.2" y="1234.2" font-family="'Liberation Serif','Times New Roman',Times,serif" font-size="55" font-weight="bold" font-style="normal" text-anchor="end" >0.3</text>
<line x1="192.5" y1="1056.2" x2="182.5" y2="1056.2" stroke="#1f1f1f" stroke-width="3.3" />
<line x1="717.8" y1="1056.2" x2="727.8" y2="1056.2" stroke="#1f1f1f" stroke-width="3.3" />
<text x="166.2" y="1076" font-family="'Liberation Serif','Times New Roman',Times,serif" font-size="55" font-weight="bold" font-style="normal" text-anchor="end" >0.4</text>
<line x1="192.5" y1="898" x2="182.5" y2="898" stroke="#1f1f1f" stroke-width="3.3" />
<line x1="717.8" y1="898" x2="727.8" y2="898" stroke="#1f1f1f" stroke-width="3.3" />
<text x="166.2" y="917.8" font-family="'Liberation Serif','Times New Roman',Times,serif" font-size="55" font-weight="bold" font-style="normal" text-anchor="end" >0.5</text>
<text x="219" y="958.8" font-family="'Liberation Sans',Arial,Helvetica,sans-serif" font-size="45" font-weight="bold" font-style="normal" text-anchor="start" >B</text>
<line x1="778" y1="1530.8" x2="1300.2" y2="1530.8" stroke="#e2e2e2" stroke-width="2.4" stroke-dasharray="2.4 6.2"/>
<line x1="778" y1="1372.6" x2="1300.2" y2="1372.6" stroke="#e2e2e2" stroke-width="2.4" stroke-dasharray="2.4 6.2"/>
<line x1="778" y1="1214.4" x2="1300.2" y2="1214.4" stroke="#e2e2e2" stroke-width="2.4" stroke-dasharray="2.4 6.2"/>
<line x1="778" y1="1056.2" x2="1300.2" y2="1056.2" stroke="#e2e2e2" stroke-width="2.4" stroke-dasharray="2.4 6.2"/>
<g>
<circle cx="904.8" cy="1072.5" r="13.5" fill="#f7fcf0" stroke="#111" stroke-width="2.1"/>
<circle cx="861" cy="1160.6" r="13.5" fill="#f7fcf0" stroke="#111" stroke-width="2.1"/>
<circle cx="824.1" cy="1231" r="13.5" fill="#f7fcf0" stroke="#111" stroke-width="2.1"/>
<circle cx="805.1" cy="1300.4" r="13.5" fill="#f7fcf0" stroke="#111" stroke-width="2.1"/>
<circle cx="794.7" cy="1371.1" r="13.5" fill="#f7fcf0" stroke="#111" stroke-width="2.1"/>
<circle cx="828.8" cy="1424.2" r="13.5" fill="#f7fcf0" stroke="#111" stroke-width="2.1"/>
<circle cx="967.8" cy="1105.3" r="13.5" fill="#e0f3db" stroke="#111" stroke-width="2.1"/>
<circle cx="784.6" cy="1172" r="13.5" fill="#e0f3db" stroke="#111" stroke-width="2.1"/>
<circle cx="847.5" cy="1238" r="13.5" fill="#e0f3db" stroke="#111" stroke-width="2.1"/>
<circle cx="947.9" cy="1306" r="13.5" fill="#e0f3db" stroke="#111" stroke-width="2.1"/>
<circle cx="1173.6" cy="1404.5" r="13.5" fill="#e0f3db" stroke="#111" stroke-width="2.1"/>
<circle cx="1194.2" cy="1487.3" r="13.5" fill="#e0f3db" stroke="#111" stroke-width="2.1"/>
<circle cx="1172.1" cy="1571" r="13.5" fill="#e0f3db" stroke="#111" stroke-width="2.1"/>
<circle cx="1217.8" cy="1621" r="13.5" fill="#e0f3db" stroke="#111" stroke-width="2.1"/>
<circle cx="888.8" cy="1303.6" r="13.5" fill="#ccebc5" stroke="#111" stroke-width="2.1"/>
<circle cx="935.2" cy="1371.1" r="13.5" fill="#ccebc5" stroke="#111" stroke-width="2.1"/>
<circle cx="1071" cy="1439" r="13.5" fill="#ccebc5" stroke="#111" stroke-width="2.1"/>
<circle cx="1153.1" cy="1506.9" r="13.5" fill="#ccebc5" stroke="#111" stroke-width="2.1"/>
<circle cx="1092.5" cy="1574.2" r="13.5" fill="#ccebc5" stroke="#111" stroke-width="2.1"/>
<circle cx="1089" cy="1620" r="13.5" fill="#ccebc5" stroke="#111" stroke-width="2.1"/>
<circle cx="898.9" cy="1181.4" r="13.5" fill="#a8ddb5" stroke="#111" stroke-width="2.1"/>
<circle cx="899.6" cy="1263" r="13.5" fill="#a8ddb5" stroke="#111" stroke-width="2.1"/>
<circle cx="929.9" cy="1342.7" r="13.5" fill="#a8ddb5" stroke="#111" stroke-width="2.1"/>
<circle cx="988.9" cy="1403.7" r="13.5" fill="#a8ddb5" stroke="#111" stroke-width="2.1"/>
<circle cx="1104.2" cy="1464.3" r="13.5" fill="#a8ddb5" stroke="#111" stroke-width="2.1"/>
<circle cx="1204.3" cy="1525.2" r="13.5" fill="#a8ddb5" stroke="#111" stroke-width="2.1"/>
<circle cx="1159.4" cy="1586.2" r="13.5" fill="#a8ddb5" stroke="#111" stroke-width="2.1"/>
<circle cx="1121.5" cy="1626.9" r="13.5" fill="#a8ddb5" stroke="#111" stroke-width="2.1"/>
<circle cx="888.8" cy="1073.8" r="13.5" fill="#7bccc4" stroke="#111" stroke-width="2.1"/>
<circle cx="934.3" cy="1148" r="13.5" fill="#7bccc4" stroke="#111" stroke-width="2.1"/>
<circle cx="914.7" cy="1222.2" r="13.5" fill="#7bccc4" stroke="#111" stroke-width="2.1"/>
<circle cx="949.4" cy="1296.5" r="13.5" fill="#7bccc4" stroke="#111" stroke-width="2.1"/>
<circle cx="974.1" cy="1371.1" r="13.5" fill="#7bccc4" stroke="#111" stroke-width="2.1"/>
<circle cx="1079.9" cy="1426.7" r="13.5" fill="#7bccc4" stroke="#111" stroke-width="2.1"/>
<circle cx="1127.9" cy="1483" r="13.5" fill="#7bccc4" stroke="#111" stroke-width="2.1"/>
<circle cx="1139.5" cy="1538.8" r="13.5" fill="#7bccc4" stroke="#111" stroke-width="2.1"/>
<circle cx="1210.6" cy="1594.7" r="13.5" fill="#7bccc4" stroke="#111" stroke-width="2.1"/>
<circle cx="1162.6" cy="1631" r="13.5" fill="#7bccc4" stroke="#111" stroke-width="2.1"/>
<circle cx="998.4" cy="990.4" r="13.5" fill="#4eb3d3" stroke="#111" stroke-width="2.1"/>
<circle cx="1011" cy="1058.3" r="13.5" fill="#4eb3d3" stroke="#111" stroke-width="2.1"/>
<circle cx="889.5" cy="1126.8" r="13.5" fill="#4eb3d3" stroke="#111" stroke-width="2.1"/>
<circle cx="948.8" cy="1194.7" r="13.5" fill="#4eb3d3" stroke="#111" stroke-width="2.1"/>
<circle cx="958.3" cy="1263.5" r="13.5" fill="#4eb3d3" stroke="#111" stroke-width="2.1"/>
<circle cx="933.7" cy="1329.5" r="13.5" fill="#4eb3d3" stroke="#111" stroke-width="2.1"/>
<circle cx="982.6" cy="1398.3" r="13.5" fill="#4eb3d3" stroke="#111" stroke-width="2.1"/>
<circle cx="1035.3" cy="1449" r="13.5" fill="#4eb3d3" stroke="#111" stroke-width="2.1"/>
<circle cx="1134.8" cy="1500.6" r="13.5" fill="#4eb3d3" stroke="#111" stroke-width="2.1"/>
<circle cx="1162.6" cy="1550.8" r="13.5" fill="#4eb3d3" stroke="#111" stroke-width="2.1"/>
<circle cx="1221" cy="1602.6" r="13.5" fill="#4eb3d3" stroke="#111" stroke-width="2.1"/>
<circle cx="1186.3" cy="1636" r="13.5" fill="#4eb3d3" stroke="#111" stroke-width="2.1"/>
<circle cx="905.9" cy="1102.5" r="13.5" fill="#2b8cbe" stroke="#111" stroke-width="2.1"/>
<circle cx="895.8" cy="1166" r="13.5" fill="#2b8cbe" stroke="#111" stroke-width="2.1"/>
<circle cx="999" cy="1228.8" r="13.5" fill="#2b8cbe" stroke="#111" stroke-width="2.1"/>
<circle cx="965.2" cy="1291.4" r="13.5" fill="#2b8cbe" stroke="#111" stroke-width="2.1"/>
<circle cx="977.9" cy="1355" r="13.5" fill="#2b8cbe" stroke="#111" stroke-width="2.1"/>
<circle cx="943.1" cy="1418.7" r="13.5" fill="#2b8cbe" stroke="#111" stroke-width="2.1"/>
<circle cx="1044.8" cy="1466.5" r="13.5" fill="#2b8cbe" stroke="#111" stroke-width="2.1"/>
<circle cx="1101" cy="1514.2" r="13.5" fill="#2b8cbe" stroke="#111" stroke-width="2.1"/>
<circle cx="1191" cy="1561.5" r="13.5" fill="#2b8cbe" stroke="#111" stroke-width="2.1"/>
<circle cx="1241.5" cy="1608.3" r="13.5" fill="#2b8cbe" stroke="#111" stroke-width="2.1"/>
<circle cx="1160.4" cy="1640.5" r="13.5" fill="#2b8cbe" stroke="#111" stroke-width="2.1"/>
<circle cx="942.5" cy="1054.8" r="13.5" fill="#0868ac" stroke="#111" stroke-width="2.1"/>
<circle cx="947.9" cy="1160.6" r="13.5" fill="#0868ac" stroke="#111" stroke-width="2.1"/>
<circle cx="993" cy="1266" r="13.5" fill="#0868ac" stroke="#111" stroke-width="2.1"/>
<circle cx="958" cy="1353.1" r="13.5" fill="#0868ac" stroke="#111" stroke-width="2.1"/>
<circle cx="1024.3" cy="1424.2" r="13.5" fill="#0868ac" stroke="#111" stroke-width="2.1"/>
<circle cx="1081.4" cy="1494.3" r="13.5" fill="#0868ac" stroke="#111" stroke-width="2.1"/>
<circle cx="1177.4" cy="1564.7" r="13.5" fill="#0868ac" stroke="#111" stroke-width="2.1"/>
<circle cx="1133.5" cy="1617.4" r="13.5" fill="#0868ac" stroke="#111" stroke-width="2.1"/>
<circle cx="1089" cy="1653.1" r="13.5" fill="#0868ac" stroke="#111" stroke-width="2.1"/>
</g>
<rect x="778" y="898" width="522.2" height="791" fill="none" stroke="#1f1f1f" stroke-width="3.3"/>
<line x1="778" y1="898" x2="778" y2="888" stroke="#1f1f1f" stroke-width="3.3" />
<line x1="778" y1="1689" x2="778" y2="1699" stroke="#1f1f1f" stroke-width="3.3" />
<text x="778" y="1764" font-family="'Liberation Serif','Times New Roman',Times,serif" font-size="55" font-weight="bold" font-style="normal" text-anchor="middle" >0</text>
<line x1="1039.1" y1="898" x2="1039.1" y2="888" stroke="#1f1f1f" stroke-width="3.3" />
<line x1="1039.1" y1="1689" x2="1039.1" y2="1699" stroke="#1f1f1f" stroke-width="3.3" />
<text x="1039.1" y="1764" font-family="'Liberation Serif','Times New Roman',Times,serif" font-size="55" font-weight="bold" font-style="normal" text-anchor="middle" >1</text>
<line x1="1300.2" y1="898" x2="1300.2" y2="888" stroke="#1f1f1f" stroke-width="3.3" />
<line x1="1300.2" y1="1689" x2="1300.2" y2="1699" stroke="#1f1f1f" stroke-width="3.3" />
<text x="1300.2" y="1764" font-family="'Liberation Serif','Times New Roman',Times,serif" font-size="55" font-weight="bold" font-style="normal" text-anchor="middle" >2</text>
<line x1="778" y1="1689" x2="768" y2="1689" stroke="#1f1f1f" stroke-width="3.3" />
<line x1="1300.2" y1="1689" x2="1310.2" y2="1689" stroke="#1f1f1f" stroke-width="3.3" />
<line x1="778" y1="1530.8" x2="768" y2="1530.8" stroke="#1f1f1f" stroke-width="3.3" />
<line x1="1300.2" y1="1530.8" x2="1310.2" y2="1530.8" stroke="#1f1f1f" stroke-width="3.3" />
<line x1="778" y1="1372.6" x2="768" y2="1372.6" stroke="#1f1f1f" stroke-width="3.3" />
<line x1="1300.2" y1="1372.6" x2="1310.2" y2="1372.6" stroke="#1f1f1f" stroke-width="3.3" />
<line x1="778" y1="1214.4" x2="768" y2="1214.4" stroke="#1f1f1f" stroke-width="3.3" />
<line x1="1300.2" y1="1214.4" x2="1310.2" y2="1214.4" stroke="#1f1f1f" stroke-width="3.3" />
<line x1="778" y1="1056.2" x2="768" y2="1056.2" stroke="#1f1f1f" stroke-width="3.3" />
<line x1="1300.2" y1="1056.2" x2="1310.2" y2="1056.2" stroke="#1f1f1f" stroke-width="3.3" />
<line x1="778" y1="898" x2="768" y2="898" stroke="#1f1f1f" stroke-width="3.3" />
<line x1="1300.2" y1="898" x2="1310.2" y2="898" stroke="#1f1f1f" stroke-width="3.3" />
<text x="804.5" y="958.8" font-family="'Liberation Sans',Arial,Helvetica,sans-serif" font-size="45" font-weight="bold" font-style="normal" text-anchor="start" >C</text>
<line x1="1361" y1="1530.8" x2="1883.2" y2="1530.8" stroke="#e2e2e2" stroke-width="2.4" stroke-dasharray="2.4 6.2"/>
<line x1="1361" y1="1372.6" x2="1883.2" y2="1372.6" stroke="#e2e2e2" stroke-width="2.4" stroke-dasharray="2.4 6.2"/>
<line x1="1361" y1="1214.4" x2="1883.2" y2="1214.4" stroke="#e2e2e2" stroke-width="2.4" stroke-dasharray="2.4 6.2"/>
<line x1="1361" y1="1056.2" x2="1883.2" y2="1056.2" stroke="#e2e2e2" stroke-width="2.4" stroke-dasharray="2.4 6.2"/>
<g>
<circle cx="1575.3" cy="1072.5" r="13.5" fill="#f7fcf0" stroke="#111" stroke-width="2.1"/>
<circle cx="1643.2" cy="1160.6" r="13.5" fill="#f7fcf0" stroke="#111" stroke-width="2.1"/>
<circle cx="1630.6" cy="1231" r="13.5" fill="#f7fcf0" stroke="#111" stroke-width="2.1"/>
<circle cx="1630.6" cy="1300.4" r="13.5" fill="#f7fcf0" stroke="#111" stroke-width="2.1"/>
<circle cx="1693.1" cy="1371.1" r="13.5" fill="#f7fcf0" stroke="#111" stroke-width="2.1"/>
<circle cx="1667.2" cy="1424.2" r="13.5" fill="#f7fcf0" stroke="#111" stroke-width="2.1"/>
<circle cx="1737.3" cy="1494.6" r="13.5" fill="#f7fcf0" stroke="#111" stroke-width="2.1"/>
<circle cx="1757.2" cy="1547.3" r="13.5" fill="#f7fcf0" stroke="#111" stroke-width="2.1"/>
<circle cx="1753.7" cy="1600.1" r="13.5" fill="#f7fcf0" stroke="#111" stroke-width="2.1"/>
<circle cx="1584.8" cy="1105.3" r="13.5" fill="#e0f3db" stroke="#111" stroke-width="2.1"/>
<circle cx="1550.4" cy="1172" r="13.5" fill="#e0f3db" stroke="#111" stroke-width="2.1"/>
<circle cx="1576.3" cy="1238" r="13.5" fill="#e0f3db" stroke="#111" stroke-width="2.1"/>
<circle cx="1617.3" cy="1306" r="13.5" fill="#e0f3db" stroke="#111" stroke-width="2.1"/>
<circle cx="1613.5" cy="1404.5" r="13.5" fill="#e0f3db" stroke="#111" stroke-width="2.1"/>
<circle cx="1616.7" cy="1487.3" r="13.5" fill="#e0f3db" stroke="#111" stroke-width="2.1"/>
<circle cx="1552.6" cy="1571" r="13.5" fill="#e0f3db" stroke="#111" stroke-width="2.1"/>
<circle cx="1620.5" cy="1621" r="13.5" fill="#e0f3db" stroke="#111" stroke-width="2.1"/>
<circle cx="1576.9" cy="1303.6" r="13.5" fill="#ccebc5" stroke="#111" stroke-width="2.1"/>
<circle cx="1604.7" cy="1371.1" r="13.5" fill="#ccebc5" stroke="#111" stroke-width="2.1"/>
<circle cx="1628.4" cy="1439" r="13.5" fill="#ccebc5" stroke="#111" stroke-width="2.1"/>
<circle cx="1638.8" cy="1506.9" r="13.5" fill="#ccebc5" stroke="#111" stroke-width="2.1"/>
<circle cx="1624.3" cy="1574.2" r="13.5" fill="#ccebc5" stroke="#111" stroke-width="2.1"/>
<circle cx="1650.5" cy="1620" r="13.5" fill="#ccebc5" stroke="#111" stroke-width="2.1"/>
<circle cx="1526.4" cy="1181.4" r="13.5" fill="#a8ddb5" stroke="#111" stroke-width="2.1"/>
<circle cx="1525.1" cy="1263" r="13.5" fill="#a8ddb5" stroke="#111" stroke-width="2.1"/>
<circle cx="1556.7" cy="1342.7" r="13.5" fill="#a8ddb5" stroke="#111" stroke-width="2.1"/>
<circle cx="1566.8" cy="1403.7" r="13.5" fill="#a8ddb5" stroke="#111" stroke-width="2.1"/>
<circle cx="1587.3" cy="1464.3" r="13.5" fill="#a8ddb5" stroke="#111" stroke-width="2.1"/>
<circle cx="1611" cy="1525.2" r="13.5" fill="#a8ddb5" stroke="#111" stroke-width="2.1"/>
<circle cx="1610.4" cy="1586.2" r="13.5" fill="#a8ddb5" stroke="#111" stroke-width="2.1"/>
<circle cx="1623.7" cy="1626.9" r="13.5" fill="#a8ddb5" stroke="#111" stroke-width="2.1"/>
<circle cx="1489.5" cy="1073.8" r="13.5" fill="#7bccc4" stroke="#111" stroke-width="2.1"/>
<circle cx="1482.2" cy="1148" r="13.5" fill="#7bccc4" stroke="#111" stroke-width="2.1"/>
<circle cx="1491" cy="1222.2" r="13.5" fill="#7bccc4" stroke="#111" stroke-width="2.1"/>
<circle cx="1493.6" cy="1296.5" r="13.5" fill="#7bccc4" stroke="#111" stroke-width="2.1"/>
<circle cx="1510" cy="1371.1" r="13.5" fill="#7bccc4" stroke="#111" stroke-width="2.1"/>
<circle cx="1534.6" cy="1426.7" r="13.5" fill="#7bccc4" stroke="#111" stroke-width="2.1"/>
<circle cx="1560.5" cy="1483" r="13.5" fill="#7bccc4" stroke="#111" stroke-width="2.1"/>
<circle cx="1554.8" cy="1538.8" r="13.5" fill="#7bccc4" stroke="#111" stroke-width="2.1"/>
<circle cx="1583.5" cy="1594.7" r="13.5" fill="#7bccc4" stroke="#111" stroke-width="2.1"/>
<circle cx="1579.4" cy="1631" r="13.5" fill="#7bccc4" stroke="#111" stroke-width="2.1"/>
<circle cx="1469.6" cy="990.4" r="13.5" fill="#4eb3d3" stroke="#111" stroke-width="2.1"/>
<circle cx="1475.2" cy="1058.3" r="13.5" fill="#4eb3d3" stroke="#111" stroke-width="2.1"/>
<circle cx="1464.2" cy="1126.8" r="13.5" fill="#4eb3d3" stroke="#111" stroke-width="2.1"/>
<circle cx="1473.7" cy="1194.7" r="13.5" fill="#4eb3d3" stroke="#111" stroke-width="2.1"/>
<circle cx="1487.4" cy="1263.5" r="13.5" fill="#4eb3d3" stroke="#111" stroke-width="2.1"/>
<circle cx="1488.5" cy="1329.5" r="13.5" fill="#4eb3d3" stroke="#111" stroke-width="2.1"/>
<circle cx="1496.4" cy="1398.3" r="13.5" fill="#4eb3d3" stroke="#111" stroke-width="2.1"/>
<circle cx="1497.3" cy="1449" r="13.5" fill="#4eb3d3" stroke="#111" stroke-width="2.1"/>
<circle cx="1526.7" cy="1500.6" r="13.5" fill="#4eb3d3" stroke="#111" stroke-width="2.1"/>
<circle cx="1535.2" cy="1550.8" r="13.5" fill="#4eb3d3" stroke="#111" stroke-width="2.1"/>
<circle cx="1557.3" cy="1602.6" r="13.5" fill="#4eb3d3" stroke="#111" stroke-width="2.1"/>
<circle cx="1556.7" cy="1636" r="13.5" fill="#4eb3d3" stroke="#111" stroke-width="2.1"/>
<circle cx="1457.9" cy="1102.5" r="13.5" fill="#2b8cbe" stroke="#111" stroke-width="2.1"/>
<circle cx="1461.5" cy="1166" r="13.5" fill="#2b8cbe" stroke="#111" stroke-width="2.1"/>
<circle cx="1477.8" cy="1228.8" r="13.5" fill="#2b8cbe" stroke="#111" stroke-width="2.1"/>
<circle cx="1469.9" cy="1291.4" r="13.5" fill="#2b8cbe" stroke="#111" stroke-width="2.1"/>
<circle cx="1475.2" cy="1355" r="13.5" fill="#2b8cbe" stroke="#111" stroke-width="2.1"/>
<circle cx="1489.5" cy="1418.7" r="13.5" fill="#2b8cbe" stroke="#111" stroke-width="2.1"/>
<circle cx="1497.3" cy="1466.5" r="13.5" fill="#2b8cbe" stroke="#111" stroke-width="2.1"/>
<circle cx="1500.5" cy="1514.2" r="13.5" fill="#2b8cbe" stroke="#111" stroke-width="2.1"/>
<circle cx="1527.3" cy="1561.5" r="13.5" fill="#2b8cbe" stroke="#111" stroke-width="2.1"/>
<circle cx="1535.2" cy="1608.3" r="13.5" fill="#2b8cbe" stroke="#111" stroke-width="2.1"/>
<circle cx="1536.2" cy="1640.5" r="13.5" fill="#2b8cbe" stroke="#111" stroke-width="2.1"/>
<circle cx="1449" cy="1054.8" r="13.5" fill="#0868ac" stroke="#111" stroke-width="2.1"/>
<circle cx="1461" cy="1160.6" r="13.5" fill="#0868ac" stroke="#111" stroke-width="2.1"/>
<circle cx="1466.7" cy="1266" r="13.5" fill="#0868ac" stroke="#111" stroke-width="2.1"/>
<circle cx="1465.8" cy="1353.1" r="13.5" fill="#0868ac" stroke="#111" stroke-width="2.1"/>
<circle cx="1475.2" cy="1424.2" r="13.5" fill="#0868ac" stroke="#111" stroke-width="2.1"/>
<circle cx="1482.2" cy="1494.3" r="13.5" fill="#0868ac" stroke="#111" stroke-width="2.1"/>
<circle cx="1492.6" cy="1564.7" r="13.5" fill="#0868ac" stroke="#111" stroke-width="2.1"/>
<circle cx="1504.6" cy="1617.4" r="13.5" fill="#0868ac" stroke="#111" stroke-width="2.1"/>
<circle cx="1500.5" cy="1653.1" r="13.5" fill="#0868ac" stroke="#111" stroke-width="2.1"/>
</g>
<rect x="1361" y="898" width="522.2" height="791" fill="none" stroke="#1f1f1f" stroke-width="3.3"/>
<line x1="1361" y1="898" x2="1361" y2="888" stroke="#1f1f1f" stroke-width="3.3" />
<line x1="1361" y1="1689" x2="1361" y2="1699" stroke="#1f1f1f" stroke-width="3.3" />
<text x="1361" y="1764" font-family="'Liberation Serif','Times New Roman',Times,serif" font-size="55" font-weight="bold" font-style="normal" text-anchor="middle" >0</text>
<line x1="1622.1" y1="898" x2="1622.1" y2="888" stroke="#1f1f1f" stroke-width="3.3" />
<line x1="1622.1" y1="1689" x2="1622.1" y2="1699" stroke="#1f1f1f" stroke-width="3.3" />
<text x="1622.1" y="1764" font-family="'Liberation Serif','Times New Roman',Times,serif" font-size="55" font-weight="bold" font-style="normal" text-anchor="middle" >0.4</text>
<line x1="1883.2" y1="898" x2="1883.2" y2="888" stroke="#1f1f1f" stroke-width="3.3" />
<line x1="1883.2" y1="1689" x2="1883.2" y2="1699" stroke="#1f1f1f" stroke-width="3.3" />
<text x="1883.2" y="1764" font-family="'Liberation Serif','Times New Roman',Times,serif" font-size="55" font-weight="bold" font-style="normal" text-anchor="middle" >0.8</text>
<line x1="1361" y1="1689" x2="1351" y2="1689" stroke="#1f1f1f" stroke-width="3.3" />
<line x1="1883.2" y1="1689" x2="1893.2" y2="1689" stroke="#1f1f1f" stroke-width="3.3" />
<line x1="1361" y1="1530.8" x2="1351" y2="1530.8" stroke="#1f1f1f" stroke-width="3.3" />
<line x1="1883.2" y1="1530.8" x2="1893.2" y2="1530.8" stroke="#1f1f1f" stroke-width="3.3" />
<line x1="1361" y1="1372.6" x2="1351" y2="1372.6" stroke="#1f1f1f" stroke-width="3.3" />
<line x1="1883.2" y1="1372.6" x2="1893.2" y2="1372.6" stroke="#1f1f1f" stroke-width="3.3" />
<line x1="1361" y1="1214.4" x2="1351" y2="1214.4" stroke="#1f1f1f" stroke-width="3.3" />
<line x1="1883.2" y1="1214.4" x2="1893.2" y2="1214.4" stroke="#1f1f1f" stroke-width="3.3" />
<line x1="1361" y1="1056.2" x2="1351" y2="1056.2" stroke="#1f1f1f" stroke-width="3.3" />
<line x1="1883.2" y1="1056.2" x2="1893.2" y2="1056.2" stroke="#1f1f1f" stroke-width="3.3" />
<line x1="1361" y1="898" x2="1351" y2="898" stroke="#1f1f1f" stroke-width="3.3" />
<line x1="1883.2" y1="898" x2="1893.2" y2="898" stroke="#1f1f1f" stroke-width="3.3" />
<text x="1387.5" y="958.8" font-family="'Liberation Sans',Arial,Helvetica,sans-serif" font-size="45" font-weight="bold" font-style="normal" text-anchor="start" >D</text>
<line x1="1943.2" y1="1530.8" x2="2466" y2="1530.8" stroke="#e2e2e2" stroke-width="2.4" stroke-dasharray="2.4 6.2"/>
<line x1="1943.2" y1="1372.6" x2="2466" y2="1372.6" stroke="#e2e2e2" stroke-width="2.4" stroke-dasharray="2.4 6.2"/>
<line x1="1943.2" y1="1214.4" x2="2466" y2="1214.4" stroke="#e2e2e2" stroke-width="2.4" stroke-dasharray="2.4 6.2"/>
<line x1="1943.2" y1="1056.2" x2="2466" y2="1056.2" stroke="#e2e2e2" stroke-width="2.4" stroke-dasharray="2.4 6.2"/>
<g>
<circle cx="2124.3" cy="1072.5" r="13.5" fill="#f7fcf0" stroke="#111" stroke-width="2.1"/>
<circle cx="2182.5" cy="1160.6" r="13.5" fill="#f7fcf0" stroke="#111" stroke-width="2.1"/>
<circle cx="2170.1" cy="1231" r="13.5" fill="#f7fcf0" stroke="#111" stroke-width="2.1"/>
<circle cx="2166.3" cy="1300.4" r="13.5" fill="#f7fcf0" stroke="#111" stroke-width="2.1"/>
<circle cx="2217.7" cy="1371.1" r="13.5" fill="#f7fcf0" stroke="#111" stroke-width="2.1"/>
<circle cx="2194.7" cy="1424.2" r="13.5" fill="#f7fcf0" stroke="#111" stroke-width="2.1"/>
<circle cx="2245.2" cy="1494.6" r="13.5" fill="#f7fcf0" stroke="#111" stroke-width="2.1"/>
<circle cx="2253.7" cy="1547.3" r="13.5" fill="#f7fcf0" stroke="#111" stroke-width="2.1"/>
<circle cx="2235.1" cy="1600.1" r="13.5" fill="#f7fcf0" stroke="#111" stroke-width="2.1"/>
<circle cx="2213" cy="1105.3" r="13.5" fill="#e0f3db" stroke="#111" stroke-width="2.1"/>
<circle cx="2170.4" cy="1172" r="13.5" fill="#e0f3db" stroke="#111" stroke-width="2.1"/>
<circle cx="2200.4" cy="1238" r="13.5" fill="#e0f3db" stroke="#111" stroke-width="2.1"/>
<circle cx="2246" cy="1306" r="13.5" fill="#e0f3db" stroke="#111" stroke-width="2.1"/>
<circle cx="2235.7" cy="1404.5" r="13.5" fill="#e0f3db" stroke="#111" stroke-width="2.1"/>
<circle cx="2234.2" cy="1487.3" r="13.5" fill="#e0f3db" stroke="#111" stroke-width="2.1"/>
<circle cx="2151.4" cy="1571" r="13.5" fill="#e0f3db" stroke="#111" stroke-width="2.1"/>
<circle cx="2222.5" cy="1621" r="13.5" fill="#e0f3db" stroke="#111" stroke-width="2.1"/>
<circle cx="2241.4" cy="1303.6" r="13.5" fill="#ccebc5" stroke="#111" stroke-width="2.1"/>
<circle cx="2276.2" cy="1371.1" r="13.5" fill="#ccebc5" stroke="#111" stroke-width="2.1"/>
<circle cx="2303" cy="1439" r="13.5" fill="#ccebc5" stroke="#111" stroke-width="2.1"/>
<circle cx="2301.5" cy="1506.9" r="13.5" fill="#ccebc5" stroke="#111" stroke-width="2.1"/>
<circle cx="2276.2" cy="1574.2" r="13.5" fill="#ccebc5" stroke="#111" stroke-width="2.1"/>
<circle cx="2285.6" cy="1620" r="13.5" fill="#ccebc5" stroke="#111" stroke-width="2.1"/>
<circle cx="2237.3" cy="1181.4" r="13.5" fill="#a8ddb5" stroke="#111" stroke-width="2.1"/>
<circle cx="2235.1" cy="1263" r="13.5" fill="#a8ddb5" stroke="#111" stroke-width="2.1"/>
<circle cx="2290.4" cy="1342.7" r="13.5" fill="#a8ddb5" stroke="#111" stroke-width="2.1"/>
<circle cx="2305.2" cy="1403.7" r="13.5" fill="#a8ddb5" stroke="#111" stroke-width="2.1"/>
<circle cx="2333.6" cy="1464.3" r="13.5" fill="#a8ddb5" stroke="#111" stroke-width="2.1"/>
<circle cx="2362" cy="1525.2" r="13.5" fill="#a8ddb5" stroke="#111" stroke-width="2.1"/>
<circle cx="2351" cy="1586.2" r="13.5" fill="#a8ddb5" stroke="#111" stroke-width="2.1"/>
<circle cx="2355.7" cy="1626.9" r="13.5" fill="#a8ddb5" stroke="#111" stroke-width="2.1"/>
<circle cx="2210.5" cy="1073.8" r="13.5" fill="#7bccc4" stroke="#111" stroke-width="2.1"/>
<circle cx="2196.9" cy="1148" r="13.5" fill="#7bccc4" stroke="#111" stroke-width="2.1"/>
<circle cx="2210.5" cy="1222.2" r="13.5" fill="#7bccc4" stroke="#111" stroke-width="2.1"/>
<circle cx="2218.8" cy="1296.5" r="13.5" fill="#7bccc4" stroke="#111" stroke-width="2.1"/>
<circle cx="2252.2" cy="1371.1" r="13.5" fill="#7bccc4" stroke="#111" stroke-width="2.1"/>
<circle cx="2302.1" cy="1426.7" r="13.5" fill="#7bccc4" stroke="#111" stroke-width="2.1"/>
<circle cx="2348.5" cy="1483" r="13.5" fill="#7bccc4" stroke="#111" stroke-width="2.1"/>
<circle cx="2329.5" cy="1538.8" r="13.5" fill="#7bccc4" stroke="#111" stroke-width="2.1"/>
<circle cx="2376.9" cy="1594.7" r="13.5" fill="#7bccc4" stroke="#111" stroke-width="2.1"/>
<circle cx="2349.4" cy="1631" r="13.5" fill="#7bccc4" stroke="#111" stroke-width="2.1"/>
<circle cx="2201" cy="990.4" r="13.5" fill="#4eb3d3" stroke="#111" stroke-width="2.1"/>
<circle cx="2212.5" cy="1058.3" r="13.5" fill="#4eb3d3" stroke="#111" stroke-width="2.1"/>
<circle cx="2189.3" cy="1126.8" r="13.5" fill="#4eb3d3" stroke="#111" stroke-width="2.1"/>
<circle cx="2208.9" cy="1194.7" r="13.5" fill="#4eb3d3" stroke="#111" stroke-width="2.1"/>
<circle cx="2235.1" cy="1263.5" r="13.5" fill="#4eb3d3" stroke="#111" stroke-width="2.1"/>
<circle cx="2246.8" cy="1329.5" r="13.5" fill="#4eb3d3" stroke="#111" stroke-width="2.1"/>
<circle cx="2260.4" cy="1398.3" r="13.5" fill="#4eb3d3" stroke="#111" stroke-width="2.1"/>
<circle cx="2261.6" cy="1449" r="13.5" fill="#4eb3d3" stroke="#111" stroke-width="2.1"/>
<circle cx="2325.1" cy="1500.6" r="13.5" fill="#4eb3d3" stroke="#111" stroke-width="2.1"/>
<circle cx="2337.7" cy="1550.8" r="13.5" fill="#4eb3d3" stroke="#111" stroke-width="2.1"/>
<circle cx="2377.8" cy="1602.6" r="13.5" fill="#4eb3d3" stroke="#111" stroke-width="2.1"/>
<circle cx="2352.6" cy="1636" r="13.5" fill="#4eb3d3" stroke="#111" stroke-width="2.1"/>
<circle cx="2198.5" cy="1102.5" r="13.5" fill="#2b8cbe" stroke="#111" stroke-width="2.1"/>
<circle cx="2210.5" cy="1166" r="13.5" fill="#2b8cbe" stroke="#111" stroke-width="2.1"/>
<circle cx="2247.7" cy="1228.8" r="13.5" fill="#2b8cbe" stroke="#111" stroke-width="2.1"/>
<circle cx="2225.3" cy="1291.4" r="13.5" fill="#2b8cbe" stroke="#111" stroke-width="2.1"/>
<circle cx="2239.8" cy="1355" r="13.5" fill="#2b8cbe" stroke="#111" stroke-width="2.1"/>
<circle cx="2272.7" cy="1418.7" r="13.5" fill="#2b8cbe" stroke="#111" stroke-width="2.1"/>
<circle cx="2294.2" cy="1466.5" r="13.5" fill="#2b8cbe" stroke="#111" stroke-width="2.1"/>
<circle cx="2299.8" cy="1514.2" r="13.5" fill="#2b8cbe" stroke="#111" stroke-width="2.1"/>
<circle cx="2364.3" cy="1561.5" r="13.5" fill="#2b8cbe" stroke="#111" stroke-width="2.1"/>
<circle cx="2373.7" cy="1608.3" r="13.5" fill="#2b8cbe" stroke="#111" stroke-width="2.1"/>
<circle cx="2359.8" cy="1640.5" r="13.5" fill="#2b8cbe" stroke="#111" stroke-width="2.1"/>
<circle cx="2202.6" cy="1054.8" r="13.5" fill="#0868ac" stroke="#111" stroke-width="2.1"/>
<circle cx="2235.7" cy="1160.6" r="13.5" fill="#0868ac" stroke="#111" stroke-width="2.1"/>
<circle cx="2256.9" cy="1266" r="13.5" fill="#0868ac" stroke="#111" stroke-width="2.1"/>
<circle cx="2250.9" cy="1353.1" r="13.5" fill="#0868ac" stroke="#111" stroke-width="2.1"/>
<circle cx="2274.6" cy="1424.2" r="13.5" fill="#0868ac" stroke="#111" stroke-width="2.1"/>
<circle cx="2287.8" cy="1494.3" r="13.5" fill="#0868ac" stroke="#111" stroke-width="2.1"/>
<circle cx="2305.2" cy="1564.7" r="13.5" fill="#0868ac" stroke="#111" stroke-width="2.1"/>
<circle cx="2325.1" cy="1617.4" r="13.5" fill="#0868ac" stroke="#111" stroke-width="2.1"/>
<circle cx="2299.8" cy="1653.1" r="13.5" fill="#0868ac" stroke="#111" stroke-width="2.1"/>
</g>
<rect x="1943.2" y="898" width="522.8" height="791" fill="none" stroke="#1f1f1f" stroke-width="3.3"/>
<line x1="1943.2" y1="898" x2="1943.2" y2="888" stroke="#1f1f1f" stroke-width="3.3" />
<line x1="1943.2" y1="1689" x2="1943.2" y2="1699" stroke="#1f1f1f" stroke-width="3.3" />
<text x="1943.2" y="1764" font-family="'Liberation Serif','Times New Roman',Times,serif" font-size="55" font-weight="bold" font-style="normal" text-anchor="middle" >0</text>
<line x1="2204.6" y1="898" x2="2204.6" y2="888" stroke="#1f1f1f" stroke-width="3.3" />
<line x1="2204.6" y1="1689" x2="2204.6" y2="1699" stroke="#1f1f1f" stroke-width="3.3" />
<text x="2204.6" y="1764" font-family="'Liberation Serif','Times New Roman',Times,serif" font-size="55" font-weight="bold" font-style="normal" text-anchor="middle" >0.05</text>
<line x1="2466" y1="898" x2="2466" y2="888" stroke="#1f1f1f" stroke-width="3.3" />
<line x1="2466" y1="1689" x2="2466" y2="1699" stroke="#1f1f1f" stroke-width="3.3" />
<text x="2466" y="1764" font-family="'Liberation Serif','Times New Roman',Times,serif" font-size="55" font-weight="bold" font-style="normal" text-anchor="middle" >0.1</text>
<line x1="1943.2" y1="1689" x2="1933.2" y2="1689" stroke="#1f1f1f" stroke-width="3.3" />
<line x1="2466" y1="1689" x2="2476" y2="1689" stroke="#1f1f1f" stroke-width="3.3" />
<line x1="1943.2" y1="1530.8" x2="1933.2" y2="1530.8" stroke="#1f1f1f" stroke-width="3.3" />
<line x1="2466" y1="1530.8" x2="2476" y2="1530.8" stroke="#1f1f1f" stroke-width="3.3" />
<line x1="1943.2" y1="1372.6" x2="1933.2" y2="1372.6" stroke="#1f1f1f" stroke-width="3.3" />
<line x1="2466" y1="1372.6" x2="2476" y2="1372.6" stroke="#1f1f1f" stroke-width="3.3" />
<line x1="1943.2" y1="1214.4" x2="1933.2" y2="1214.4" stroke="#1f1f1f" stroke-width="3.3" />
<line x1="2466" y1="1214.4" x2="2476" y2="1214.4" stroke="#1f1f1f" stroke-width="3.3" />
<line x1="1943.2" y1="1056.2" x2="1933.2" y2="1056.2" stroke="#1f1f1f" stroke-width="3.3" />
<line x1="2466" y1="1056.2" x2="2476" y2="1056.2" stroke="#1f1f1f" stroke-width="3.3" />
<line x1="1943.2" y1="898" x2="1933.2" y2="898" stroke="#1f1f1f" stroke-width="3.3" />
<line x1="2466" y1="898" x2="2476" y2="898" stroke="#1f1f1f" stroke-width="3.3" />
<text x="1969.7" y="958.8" font-family="'Liberation Sans',Arial,Helvetica,sans-serif" font-size="45" font-weight="bold" font-style="normal" text-anchor="start" >E</text>
<g transform="translate(77.5,1292) rotate(-90)"><text x="0" y="0" font-family="'Liberation Serif','Times New Roman',Times,serif" font-size="60" font-weight="bold" font-style="italic" text-anchor="middle">z/H</text></g>
<text y="1829" font-family="'Liberation Serif','Times New Roman',Times,serif" font-size="56" text-anchor="start"><tspan x="289" font-style="italic">u</tspan>′<tspan x="331.7" dy="29" font-size="42">rms</tspan><tspan x="398" dy="-29">/</tspan><tspan x="415">&lt;</tspan><tspan x="449.5" font-style="italic">u</tspan>′<tspan x="494" dy="29" font-size="42">rms</tspan><tspan x="560.3" dy="-29">&gt;</tspan><tspan x="598" dy="28" font-style="italic" font-size="40">d</tspan></text>
<text transform="translate(844.5,1827.5) scale(1.0,1)" font-family="'Liberation Serif','Times New Roman',Times,serif" font-size="64" font-style="italic" text-anchor="start" stroke="#fff" stroke-width="0.7">u</text>
<text transform="translate(876,1825) scale(1.0,1)" font-family="'Liberation Serif','Times New Roman',Times,serif" font-size="48" font-style="italic" text-anchor="start">′</text>
<text transform="translate(897,1827.5) scale(0.86,1)" font-family="'Liberation Serif','Times New Roman',Times,serif" font-size="64" font-style="italic" text-anchor="start" stroke="#fff" stroke-width="0.7">w</text>
<text transform="translate(932.5,1825) scale(1.0,1)" font-family="'Liberation Serif','Times New Roman',Times,serif" font-size="48" font-style="italic" text-anchor="start">′</text>
<text transform="translate(950,1840) scale(1.0,1)" font-family="'Liberation Serif','Times New Roman',Times,serif" font-size="80" font-style="normal" text-anchor="start" stroke="#fff" stroke-width="1.3">/</text>
<text transform="translate(992,1837.5) scale(1.0,1)" font-family="'Liberation Serif','Times New Roman',Times,serif" font-size="71" font-style="normal" text-anchor="start" stroke="#fff" stroke-width="1.3">&lt;</text>
<text transform="translate(1051,1827.5) scale(1.0,1)" font-family="'Liberation Serif','Times New Roman',Times,serif" font-size="64" font-style="italic" text-anchor="start" stroke="#fff" stroke-width="0.7">u</text>
<text transform="translate(1082,1825) scale(1.0,1)" font-family="'Liberation Serif','Times New Roman',Times,serif" font-size="48" font-style="italic" text-anchor="start">′</text>
<text transform="translate(1102.5,1827.5) scale(0.86,1)" font-family="'Liberation Serif','Times New Roman',Times,serif" font-size="64" font-style="italic" text-anchor="start" stroke="#fff" stroke-width="0.7">w</text>
<text transform="translate(1137.5,1825) scale(1.0,1)" font-family="'Liberation Serif','Times New Roman',Times,serif" font-size="48" font-style="italic" text-anchor="start">′</text>
<text transform="translate(1167,1837.5) scale(1.0,1)" font-family="'Liberation Serif','Times New Roman',Times,serif" font-size="72" font-style="normal" text-anchor="start" stroke="#fff" stroke-width="1.3">&gt;</text>
<text transform="translate(1212,1837) scale(1.0,1)" font-family="'Liberation Serif','Times New Roman',Times,serif" font-size="37" font-style="italic" text-anchor="start">d</text>
<line x1="843.4" y1="1782.8" x2="946.6" y2="1782.8" stroke="#222" stroke-width="2.4" />
<line x1="1049.2" y1="1782.8" x2="1152.4" y2="1782.8" stroke="#222" stroke-width="2.4" />
<text x="1621" y="1829" font-family="'Liberation Serif','Times New Roman',Times,serif" font-size="56" text-anchor="middle"><tspan font-style="italic">T</tspan> (s)</text>
<text x="2203" y="1829" font-family="'Liberation Serif','Times New Roman',Times,serif" font-size="56" text-anchor="middle"><tspan font-style="italic">L</tspan> (m)</text>
</svg>
</body></html>
